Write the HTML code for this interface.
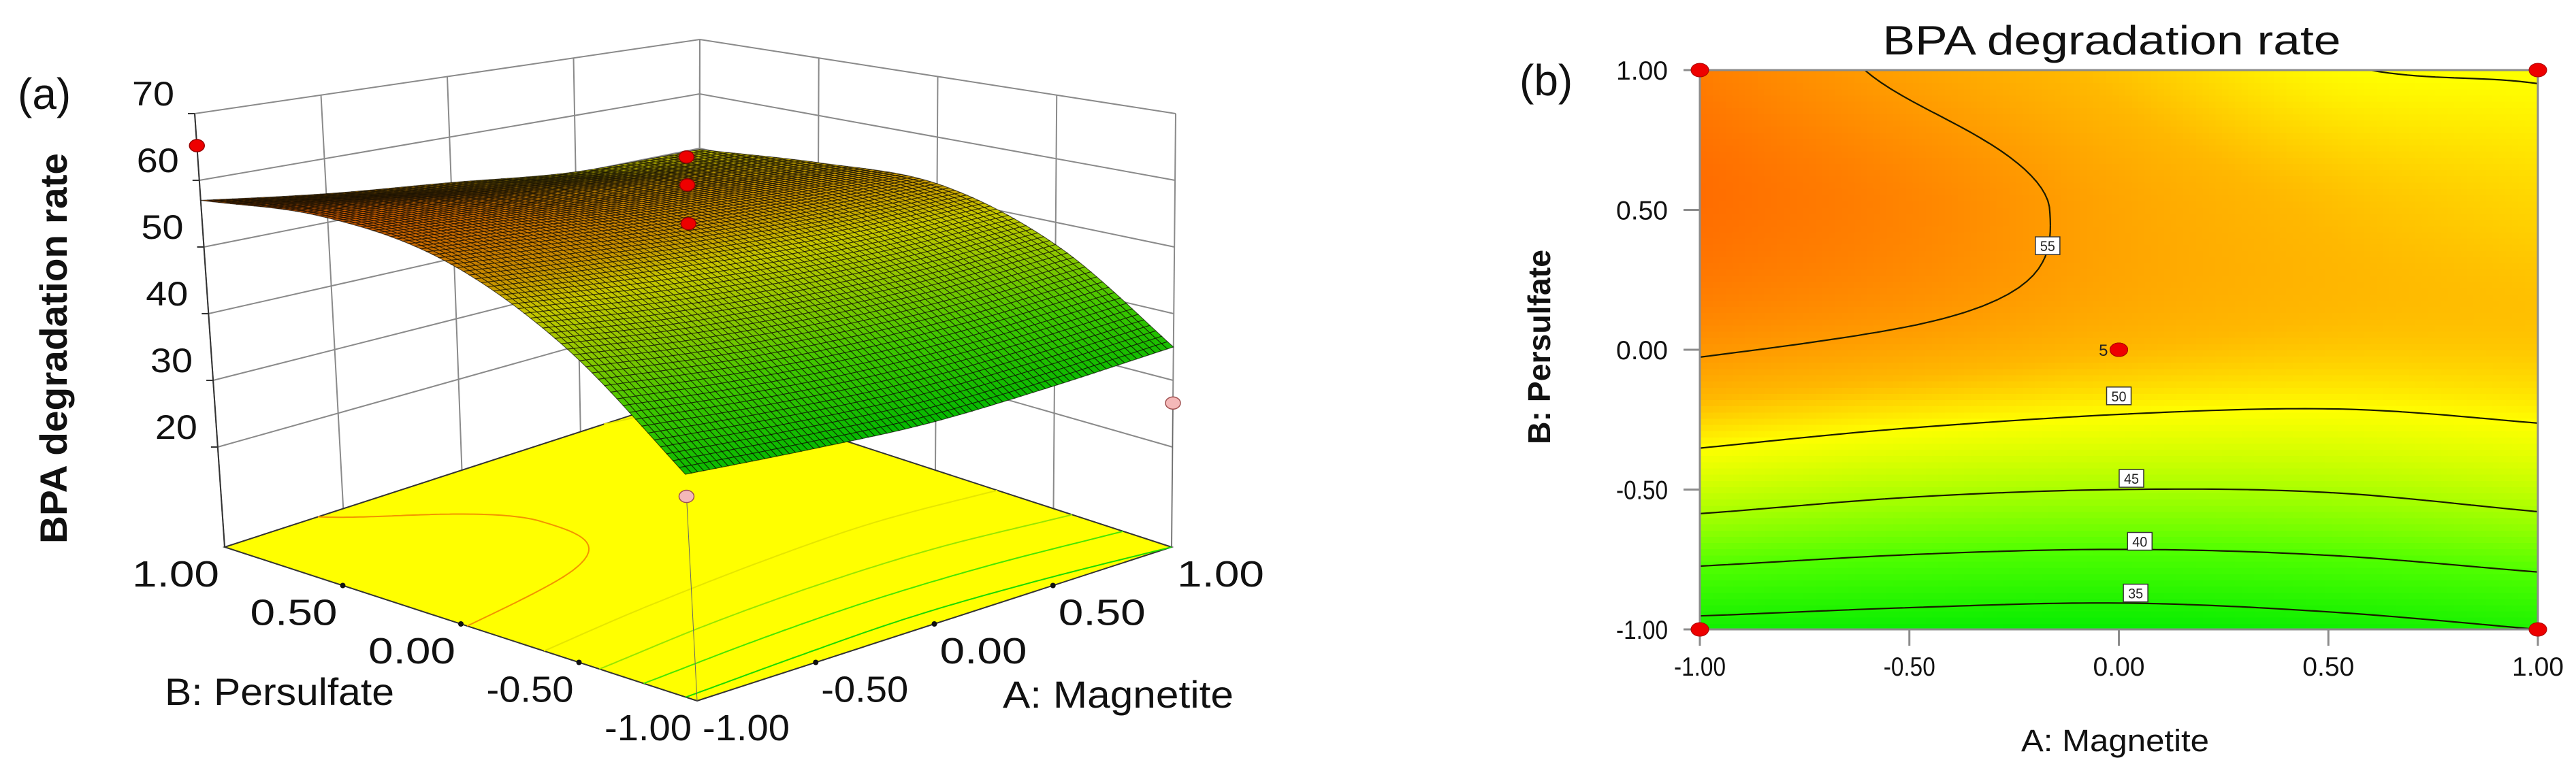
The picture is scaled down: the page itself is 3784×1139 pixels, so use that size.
<!DOCTYPE html>
<html><head><meta charset="utf-8">
<style>
html,body{margin:0;padding:0;background:#fff;}
svg{display:block;font-family:"Liberation Sans",Arial,sans-serif;}
</style></head>
<body>
<svg id="fig" width="3784" height="1139" viewBox="0 0 3784 1139" xmlns="http://www.w3.org/2000/svg">
<g id="left"></g>
<g id="right"></g>
</svg>
<script>
// ---- data ----
const aLevels = [-1, -0.5, 0, 0.5, 1];
const bLevels = [-1, -0.5, 0, 0.5, 1];
const zRowBm1 = [33.7, 33.0, 32.6, 33.5, 35.0];
const zRowBm05 = [47.0, 45.6, 45.0, 45.2, 46.5];
const zRowB0 = [55.3, 54.2, 53.0, 52.3, 52.3];
const zRowB05 = [58.0, 56.5, 54.3, 52.8, 51.8];
const zRowB1 = [57.0, 54.5, 52.5, 50.2, 49.8];
const zTicks = [20, 30, 40, 50, 60, 70];
const zTickLabels = ["20", "30", "40", "50", "60", "70"];
const codedTicks = [-1, -0.5, 0, 0.5, 1];
const codedTickLabels = ["-1.00", "-0.50", "0.00", "0.50", "1.00"];
const contourLevels = [35, 40, 45, 50, 55];
const contourLabelA = [0.04, 0.05, 0.03, 0.00, -0.17];
const contourLabelB = [-0.87, -0.685, -0.46, -0.165, 0.372];
const designA = [-1, 1, -1, 1, 0, 0, 0];
const designB = [1, 1, -1, -1, 0, 0, 0];
const designZ = [65.2, 47.0, 30.9, 26.6, 63.5, 59.3, 53.5];
const centerReplicates = "5";

const zGrid = [zRowBm1, zRowBm05, zRowB0, zRowB05, zRowB1];
const NS = "http://www.w3.org/2000/svg";
function el(tag, attrs, parent, text) {
  const e = document.createElementNS(NS, tag);
  for (const k in attrs) e.setAttribute(k, attrs[k]);
  if (text !== undefined) e.textContent = text;
  parent.appendChild(e);
  return e;
}
function cr1(p, u) {
  const n = p.length;
  let i = Math.floor(u); if (i > n - 2) i = n - 2; if (i < 0) i = 0;
  const t = u - i;
  const g = k => k < 0 ? 2 * p[0] - p[1] : (k > n - 1 ? 2 * p[n - 1] - p[n - 2] : p[k]);
  const p0 = g(i - 1), p1 = g(i), p2 = g(i + 1), p3 = g(i + 2);
  return 0.5 * ((2 * p1) + (-p0 + p2) * t + (2 * p0 - 5 * p1 + 4 * p2 - p3) * t * t + (-p0 + 3 * p1 - 3 * p2 + p3) * t * t * t);
}
function surf(a, b) {
  const u = (a - aLevels[0]) / (aLevels[1] - aLevels[0]);
  const v = (b - bLevels[0]) / (bLevels[1] - bLevels[0]);
  const col = zGrid.map(row => cr1(row, u));
  return cr1(col, v);
}
const stopsZ = [32, 40, 45, 50, 53, 56, 58.5];
const stopsC = [[0,235,0],[80,255,0],[168,255,0],[255,255,0],[255,184,0],[255,140,0],[255,102,0]];
function cmap(z, dark) {
  let i = 0;
  if (z <= stopsZ[0]) i = 0; else if (z >= stopsZ[stopsZ.length-1]) i = stopsZ.length - 2;
  else while (z > stopsZ[i + 1]) i++;
  let t = (z - stopsZ[i]) / (stopsZ[i + 1] - stopsZ[i]); t = Math.max(0, Math.min(1, t));
  const c = stopsC[i].map((v, k) => Math.round((v + (stopsC[i + 1][k] - v) * t) * (dark || 1)));
  return `rgb(${c[0]},${c[1]},${c[2]})`;
}
function contourSegments(level, N) {
  const segs = [];
  const val = [];
  for (let j = 0; j <= N; j++) { val.push([]); for (let i = 0; i <= N; i++) val[j].push(surf(-1 + 2 * i / N, -1 + 2 * j / N)); }
  for (let j = 0; j < N; j++) for (let i = 0; i < N; i++) {
    const a0 = -1 + 2 * i / N, a1 = -1 + 2 * (i + 1) / N, b0 = -1 + 2 * j / N, b1 = -1 + 2 * (j + 1) / N;
    const v00 = val[j][i], v10 = val[j][i + 1], v11 = val[j + 1][i + 1], v01 = val[j + 1][i];
    const pts = [];
    const edge = (va, vb, pa, pb) => { if ((va - level) * (vb - level) < 0) { const t = (level - va) / (vb - va); pts.push([pa[0] + (pb[0] - pa[0]) * t, pa[1] + (pb[1] - pa[1]) * t]); } };
    edge(v00, v10, [a0, b0], [a1, b0]); edge(v10, v11, [a1, b0], [a1, b1]);
    edge(v11, v01, [a1, b1], [a0, b1]); edge(v01, v00, [a0, b1], [a0, b0]);
    if (pts.length >= 2) segs.push([pts[0], pts[1]]);
    if (pts.length === 4) segs.push([pts[2], pts[3]]);
  }
  return segs;
}
const contourSegs = contourLevels.map(l => contourSegments(l, 90));

// ================= LEFT: 3D =================
const L = document.getElementById('left');
const Z0 = 5, Z1 = 70;
const F = { mm: [1024, 1030], pm: [1721, 804], mp: [330, 804], pp: [1027, 578] };
const T = { mm: [985, 276], pm: [1727, 167], mp: [286, 167], pp: [1028, 58] };
function bil(C, a, b) {
  const s = (a + 1) / 2, t = (b + 1) / 2;
  const w = [(1 - s) * (1 - t), s * (1 - t), (1 - s) * t, s * t];
  return [w[0] * C.mm[0] + w[1] * C.pm[0] + w[2] * C.mp[0] + w[3] * C.pp[0],
          w[0] * C.mm[1] + w[1] * C.pm[1] + w[2] * C.mp[1] + w[3] * C.pp[1]];
}
function P(a, b, z) {
  const f = bil(F, a, b), t = bil(T, a, b), w = (z - Z0) / (Z1 - Z0);
  return [f[0] + (t[0] - f[0]) * w, f[1] + (t[1] - f[1]) * w];
}
const pstr = p => p[0].toFixed(1) + ',' + p[1].toFixed(1);
const walls = el('g', {   stroke: '#8a8a8a', 'stroke-width': 2, fill: 'none' }, L);
codedTicks.forEach(v => {
  el('line', { x1: P(v, 1, Z0)[0], y1: P(v, 1, Z0)[1], x2: P(v, 1, Z1)[0], y2: P(v, 1, Z1)[1] }, walls);
  el('line', { x1: P(1, v, Z0)[0], y1: P(1, v, Z0)[1], x2: P(1, v, Z1)[0], y2: P(1, v, Z1)[1] }, walls);
});
zTicks.forEach(z => {
  el('polyline', { points: [P(-1, 1, z), P(1, 1, z), P(1, -1, z)].map(pstr).join(' ') }, walls);
});
const zax = el('g', {  }, L);
el('line', { x1: P(-1, 1, Z0)[0], y1: P(-1, 1, Z0)[1], x2: P(-1, 1, Z1)[0], y2: P(-1, 1, Z1)[1], stroke: '#333', 'stroke-width': 2 }, zax);
zTicks.forEach((z, i) => {
  const p = P(-1, 1, z);
  el('line', { x1: p[0] - 10, y1: p[1], x2: p[0], y2: p[1], stroke: '#333', 'stroke-width': 2 }, zax);
  const t = el('text', { x: p[0] - 30, y: p[1] - 12, 'text-anchor': 'end', 'font-size': 50, fill: '#111', textLength: 62, lengthAdjust: 'spacingAndGlyphs' }, zax, zTickLabels[i]);
  
  
});
const floor = el('g', {  }, L);
el('polygon', { points: [P(-1, -1, Z0), P(1, -1, Z0), P(1, 1, Z0), P(-1, 1, Z0)].map(pstr).join(' '), fill: '#ffff00', stroke: '#333', 'stroke-width': 2 }, floor);
contourLevels.forEach((lv, k) => {
  let d = '';
  contourSegs[k].forEach(s => { d += 'M' + pstr(P(s[0][0], s[0][1], Z0)) + 'L' + pstr(P(s[1][0], s[1][1], Z0)); });
  el('path', { d: d, stroke: cmap(lv, lv > 50 ? 0.95 : 0.9), 'stroke-width': 2, fill: 'none' }, floor);
});
[0.5, 0, -0.5].forEach(v => {
  const p1 = P(-1, v, Z0), p2 = P(v, -1, Z0);
  el('circle', { cx: p1[0], cy: p1[1], r: 4, fill: '#111' }, floor);
  el('circle', { cx: p2[0], cy: p2[1], r: 4, fill: '#111' }, floor);
});
const ptsBelow = el('g', {  }, L);
designA.forEach((a, i) => {
  const b = designB[i], z = designZ[i], below = z < surf(a, b);
  if (below && !(a === 1 && b === 1)) {
    const p = P(a, b, z);
    el('line', { x1: p[0], y1: p[1], x2: P(a, b, Z0)[0], y2: P(a, b, Z0)[1], stroke: '#666', 'stroke-width': 1 }, ptsBelow);
  }
});
const sg = el('g', {   stroke: 'rgba(10,8,0,0.68)', 'stroke-width': 1.1 }, L);
const N = 80;
const quads = [];
for (let j = 0; j < N; j++) for (let i = 0; i < N; i++) quads.push([i, j]);
quads.sort((q1, q2) => (q2[0] + q2[1]) - (q1[0] + q1[1]));
quads.forEach(([i, j]) => {
  const a0 = -1 + 2 * i / N, a1 = -1 + 2 * (i + 1) / N, b0 = -1 + 2 * j / N, b1 = -1 + 2 * (j + 1) / N;
  const zc = surf((a0 + a1) / 2, (b0 + b1) / 2);
  const pts = [P(a0, b0, surf(a0, b0)), P(a1, b0, surf(a1, b0)), P(a1, b1, surf(a1, b1)), P(a0, b1, surf(a0, b1))];
  el('polygon', { points: pts.map(pstr).join(' '), fill: cmap(zc, 0.78) }, sg);
});
const dp = el('g', {  }, L);
designA.forEach((a, i) => {
  const b = designB[i], z = designZ[i];
  if (a === 1 && b === 1) return;
  const below = z < surf(a, b);
  const p = P(a, b, z);
  const c = el('ellipse', { cx: p[0], cy: p[1], rx: 11, ry: 9, fill: below ? '#f4b8b8' : '#ee0000', stroke: below ? '#a05050' : '#900', 'stroke-width': 1.5 }, dp);
  
  
});
const fl = el('g', {   'font-size': 54, fill: '#111' }, L);
codedTicks.forEach((v, i) => {
  const pb = P(-1, v, Z0), pa = P(v, -1, Z0);
  const tb = el('text', { x: pb[0] - 72, y: pb[1] + 58, 'text-anchor': 'middle', textLength: 128, lengthAdjust: 'spacingAndGlyphs' }, fl, codedTickLabels[i]);
  
  
  const ta = el('text', { x: pa[0] + 72, y: pa[1] + 58, 'text-anchor': 'middle', textLength: 128, lengthAdjust: 'spacingAndGlyphs' }, fl, codedTickLabels[i]);
  
  
});
el('text', { x: 242, y: 1036, 'font-size': 56, fill: '#111', textLength: 337, lengthAdjust: 'spacingAndGlyphs',  }, L, 'B: Persulfate');
el('text', { x: 1473, y: 1040, 'font-size': 56, fill: '#111', textLength: 339, lengthAdjust: 'spacingAndGlyphs',  }, L, 'A: Magnetite');
el('text', { x: 0, y: 0, transform: 'translate(98,512) rotate(-90)', 'text-anchor': 'middle', 'font-size': 56, 'font-weight': 'bold', fill: '#111', textLength: 574, lengthAdjust: 'spacingAndGlyphs',  }, L, 'BPA degradation rate');
el('text', { x: 26, y: 160, 'font-size': 64, fill: '#111',  }, L, '(a)');

// ================= RIGHT: contour =================
const R = document.getElementById('right');
const X0 = 2497, X1 = 3728, Y0 = 103, Y1 = 925;
const sx = a => X0 + (a + 1) / 2 * (X1 - X0);
const sy = b => Y1 - (b + 1) / 2 * (Y1 - Y0);
const fillG = el('g', {   'shape-rendering': 'crispEdges' }, R);
const NX = 130, NY = 90;
for (let j = 0; j < NY; j++) for (let i = 0; i < NX; i++) {
  const a = -1 + 2 * (i + 0.5) / NX, b = -1 + 2 * (j + 0.5) / NY;
  const x0 = sx(-1 + 2 * i / NX), y0 = sy(-1 + 2 * (j + 1) / NY);
  el('rect', { x: x0.toFixed(1), y: y0.toFixed(1), width: ((X1 - X0) / NX + 1).toFixed(1), height: ((Y1 - Y0) / NY + 1).toFixed(1), fill: cmap(surf(a, b)) }, fillG);
}
const lines = el('g', {   stroke: '#1a1a00', 'stroke-width': 2.2, fill: 'none' }, R);
contourLevels.forEach((lv, k) => {
  let d = '';
  contourSegs[k].forEach(s => { d += 'M' + sx(s[0][0]).toFixed(1) + ',' + sy(s[0][1]).toFixed(1) + 'L' + sx(s[1][0]).toFixed(1) + ',' + sy(s[1][1]).toFixed(1); });
  const p = el('path', { d: d }, lines);
  
  
});
el('rect', { x: X0, y: Y0, width: X1 - X0, height: Y1 - Y0, fill: 'none', stroke: '#8c8c8c', 'stroke-width': 3,  }, R);
const labs = el('g', {  }, R);
contourLevels.forEach((lv, k) => {
  const x = sx(contourLabelA[k]), y = sy(contourLabelB[k]);
  el('rect', { x: x - 18, y: y - 13, width: 36, height: 26, fill: '#fff', stroke: '#333', 'stroke-width': 1.5 }, labs);
  const t = el('text', { x: x, y: y + 8, 'text-anchor': 'middle', 'font-size': 21, fill: '#222', textLength: 22, lengthAdjust: 'spacingAndGlyphs' }, labs, String(lv));
  
  
});
const ax = el('g', {   'font-size': 39, fill: '#111' }, R);
codedTicks.forEach((v, i) => {
  el('line', { x1: X0 - 24, y1: sy(v), x2: X0, y2: sy(v), stroke: '#8c8c8c', 'stroke-width': 3 }, ax);
  const ty = el('text', { x: X0 - 47, y: sy(v) + 14, 'text-anchor': 'end', textLength: 76, lengthAdjust: 'spacingAndGlyphs' }, ax, codedTickLabels[i]);
  
  
  el('line', { x1: sx(v), y1: Y1, x2: sx(v), y2: Y1 + 24, stroke: '#8c8c8c', 'stroke-width': 3 }, ax);
  const tx = el('text', { x: sx(v), y: Y1 + 68, 'text-anchor': 'middle', textLength: 76, lengthAdjust: 'spacingAndGlyphs' }, ax, codedTickLabels[i]);
  
  
});
const rp = el('g', {  }, R);
designA.forEach((a, i) => {
  const e = el('ellipse', { cx: sx(a), cy: sy(designB[i]), rx: 13, ry: 10, fill: '#ee0000', stroke: '#a00', 'stroke-width': 1 }, rp);
  
  
});
el('text', { x: sx(0) - 16, y: sy(0) + 9, 'text-anchor': 'end', 'font-size': 24, fill: '#222' }, rp, centerReplicates);
el('text', { x: 3102, y: 80, 'text-anchor': 'middle', 'font-size': 60, fill: '#111', textLength: 673, lengthAdjust: 'spacingAndGlyphs',  }, R, 'BPA degradation rate');
el('text', { x: 3107, y: 1104, 'text-anchor': 'middle', 'font-size': 45, fill: '#111', textLength: 276, lengthAdjust: 'spacingAndGlyphs',  }, R, 'A: Magnetite');
el('text', { x: 0, y: 0, transform: 'translate(2277,510) rotate(-90)', 'text-anchor': 'middle', 'font-size': 46, 'font-weight': 'bold', fill: '#111', textLength: 286, lengthAdjust: 'spacingAndGlyphs',  }, R, 'B: Persulfate');
el('text', { x: 2232, y: 140, 'font-size': 64, fill: '#111',  }, R, '(b)');
</script>
</body></html>
